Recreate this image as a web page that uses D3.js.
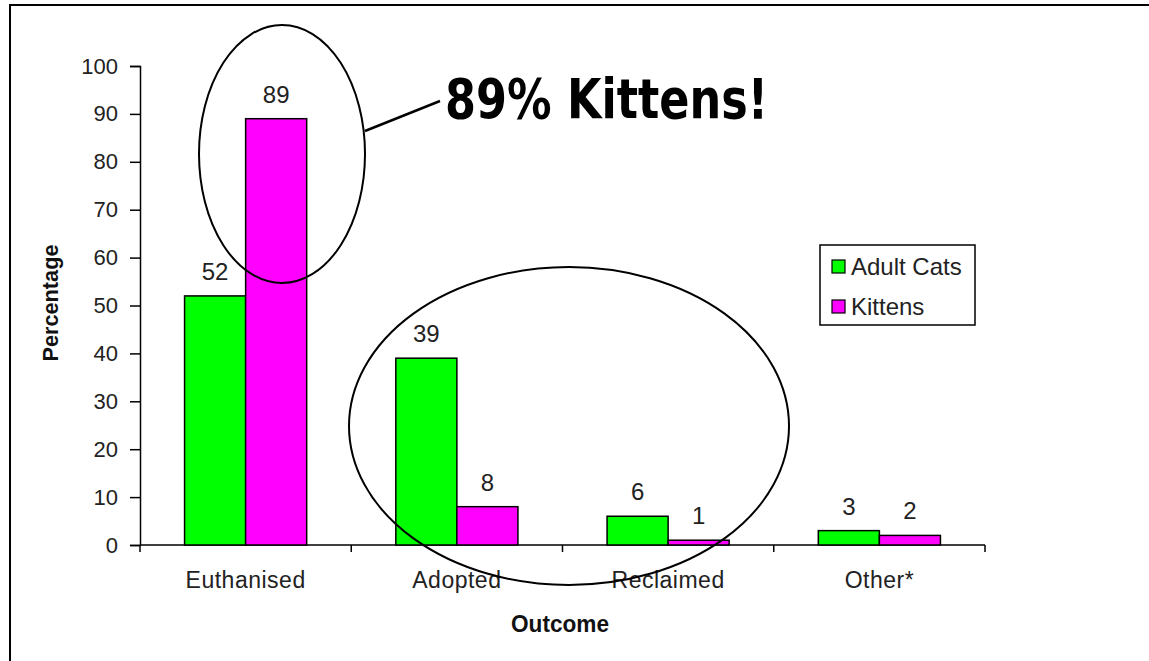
<!DOCTYPE html>
<html>
<head>
<meta charset="utf-8">
<script src="https://cdn.jsdelivr.net/npm/d3@7"></script>
<style>
  body { margin: 0; background: #fff; }
  svg text { font-family: "Liberation Sans", Arial, sans-serif; }
</style>
</head>
<body>
<div id="plot"></div>
<script>
// chart data
const outcomes = ["Euthanised", "Adopted", "Reclaimed", "Other*"];
const series = ["Adult Cats", "Kittens"];
const adultCats = [52, 39, 6, 3];
const kittens = [89, 8, 1, 2];
const yTicks = [0, 10, 20, 30, 40, 50, 60, 70, 80, 90, 100];
const colors = ["#00ff00", "#ff00ff"];

const width = 1149;
const height = 661;

const svg = d3.select("div#plot")
    .append("svg")
    .attr("width", width)
    .attr("height", height);

// outer frame (top and left edge only, like the cropped slide)
svg.append("path")
    .attr("d", `M10,${height} L10,5 L${width},5`)
    .attr("fill", "none")
    .attr("stroke", "#000")
    .attr("stroke-width", 2);

const x0 = d3.scaleBand()
    .domain(outcomes)
    .range([140, 985])
    .paddingInner(0)
    .paddingOuter(0);

const x1 = d3.scaleBand()
    .domain(series)
    .range([0, x0.bandwidth()])
    .paddingInner(0)
    .paddingOuter(0.73);

const y = d3.scaleLinear()
    .domain([0, 100])
    .range([545, 66]);

// y axis
const yAxis = svg.append("g")
    .attr("transform", "translate(140,0)")
    .call(d3.axisLeft(y).tickValues(yTicks).tickSize(10).tickPadding(12));
yAxis.select(".domain").attr("stroke", "#000").attr("stroke-width", 1.5);
yAxis.selectAll(".tick line").attr("stroke", "#000").attr("stroke-width", 1.5);
yAxis.selectAll(".tick text")
    .style("font-size", "22px")
    .attr("fill", "#222");

// x axis: ticks sit between the categories
const xAxis = svg.append("g")
    .attr("transform", "translate(0,545)");
xAxis.append("line")
    .attr("x1", x0.range()[0]).attr("x2", x0.range()[1])
    .attr("stroke", "#000").attr("stroke-width", 1.5);
const boundaries = outcomes.map(d => x0(d)).concat([x0(outcomes[outcomes.length - 1]) + x0.bandwidth()]);
xAxis.selectAll("line.tick")
    .data(boundaries)
    .enter().append("line")
    .attr("class", "tick")
    .attr("x1", d => d).attr("x2", d => d)
    .attr("y1", 0).attr("y2", 7)
    .attr("stroke", "#000").attr("stroke-width", 1.5);
xAxis.selectAll("text")
    .data(outcomes)
    .enter().append("text")
    .attr("x", d => x0(d) + x0.bandwidth() / 2)
    .attr("y", 43)
    .attr("text-anchor", "middle")
    .style("font-size", "23px")
    .style("letter-spacing", "0.5px")
    .attr("fill", "#222")
    .text(d => d);

// bars
const groups = svg.append("g")
    .selectAll("g")
    .data(outcomes.map((o, i) => ({outcome: o, values: [adultCats[i], kittens[i]]})))
    .enter().append("g")
    .attr("transform", d => `translate(${x0(d.outcome)},0)`);

groups.selectAll("rect")
    .data(d => d.values.map((v, j) => ({key: series[j], value: v, color: colors[j]})))
    .enter().append("rect")
    .attr("x", d => x1(d.key))
    .attr("y", d => y(d.value))
    .attr("width", x1.bandwidth())
    .attr("height", d => y(0) - y(d.value))
    .attr("fill", d => d.color)
    .attr("stroke", "#000")
    .attr("stroke-width", 1.5);

groups.selectAll("text")
    .data(d => d.values.map((v, j) => ({key: series[j], value: v})))
    .enter().append("text")
    .attr("x", d => x1(d.key) + x1.bandwidth() / 2)
    .attr("y", d => y(d.value) - 16)
    .attr("text-anchor", "middle")
    .style("font-size", "24px")
    .attr("fill", "#222")
    .text(d => d.value);

// axis titles
svg.append("text")
    .attr("transform", "translate(58,303) rotate(-90)")
    .attr("text-anchor", "middle")
    .attr("textLength", 117)
    .attr("lengthAdjust", "spacingAndGlyphs")
    .style("font-size", "22px")
    .style("font-weight", "bold")
    .attr("fill", "#111")
    .text("Percentage");

svg.append("text")
    .attr("x", 560)
    .attr("y", 632)
    .attr("text-anchor", "middle")
    .attr("textLength", 98)
    .attr("lengthAdjust", "spacingAndGlyphs")
    .style("font-size", "23px")
    .style("font-weight", "bold")
    .attr("fill", "#111")
    .text("Outcome");

// legend
const legend = svg.append("g").attr("transform", "translate(820,245)");
legend.append("rect")
    .attr("width", 155).attr("height", 80)
    .attr("fill", "#fff").attr("stroke", "#000").attr("stroke-width", 1.5);
series.forEach((s, i) => {
    legend.append("rect")
        .attr("x", 12).attr("y", 15 + i * 40)
        .attr("width", 13).attr("height", 13)
        .attr("fill", colors[i]).attr("stroke", "#000").attr("stroke-width", 1.2);
    legend.append("text")
        .attr("x", 31).attr("y", 30 + i * 40)
        .style("font-size", "24px")
        .attr("fill", "#222")
        .text(s);
});

// annotations
svg.append("ellipse")
    .attr("cx", 282).attr("cy", 154)
    .attr("rx", 83).attr("ry", 129)
    .attr("fill", "none").attr("stroke", "#000").attr("stroke-width", 2);

svg.append("ellipse")
    .attr("cx", 569).attr("cy", 426)
    .attr("rx", 220).attr("ry", 159)
    .attr("fill", "none").attr("stroke", "#000").attr("stroke-width", 2);

svg.append("line")
    .attr("x1", 365).attr("y1", 131)
    .attr("x2", 440).attr("y2", 101)
    .attr("stroke", "#000").attr("stroke-width", 2.5);

svg.append("text")
    .attr("x", 445)
    .attr("y", 118)
    .attr("textLength", 323)
    .attr("lengthAdjust", "spacingAndGlyphs")
    .style("font-family", "'Comic Sans MS', 'DejaVu Sans', sans-serif")
    .style("font-size", "56px")
    .style("font-weight", "bold")
    .attr("fill", "#000")
    .text("89% Kittens!");
</script>
</body>
</html>
